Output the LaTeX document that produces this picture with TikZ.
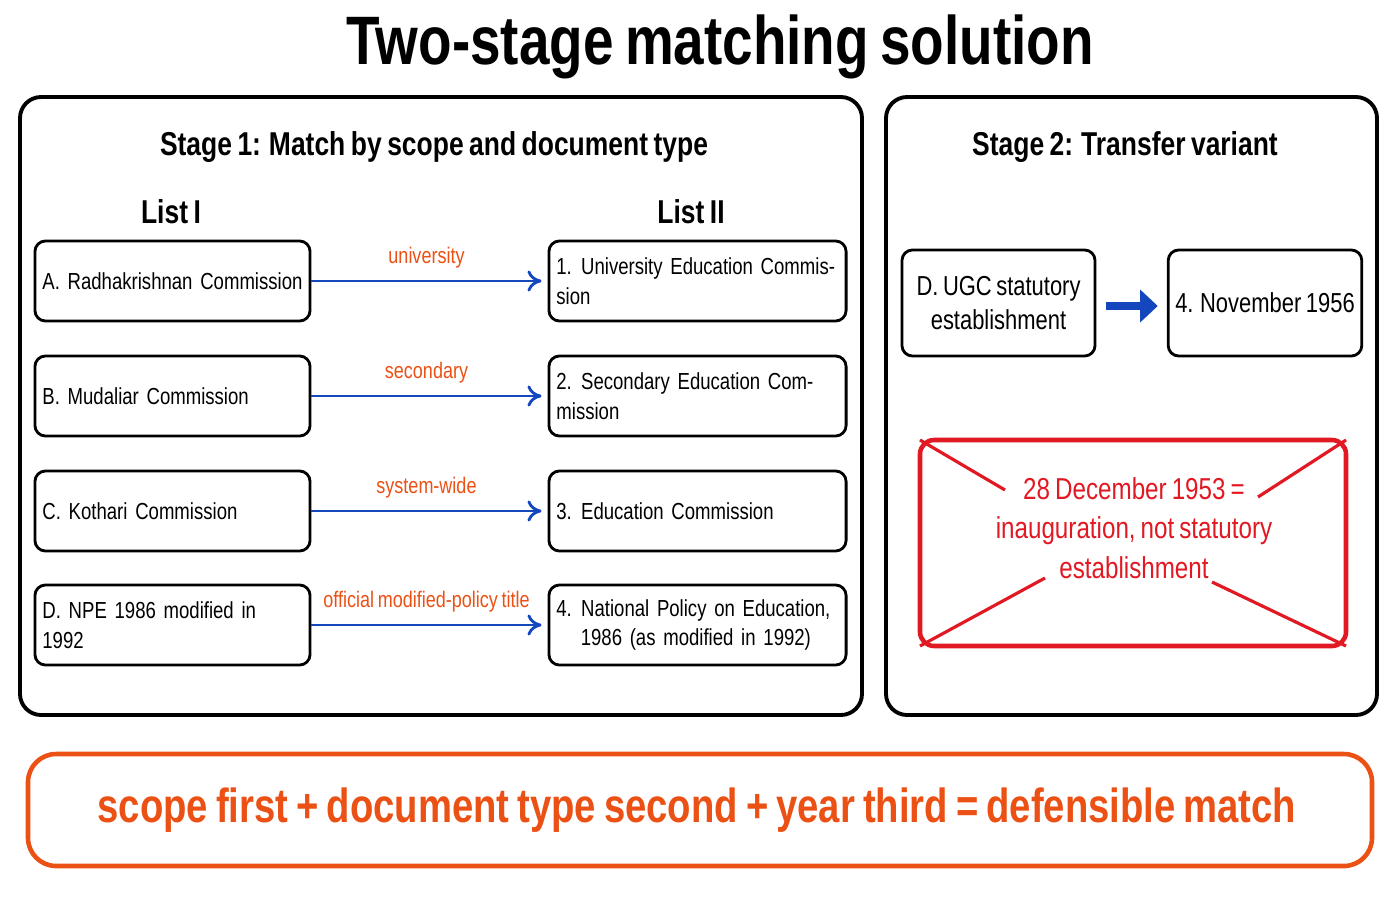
\documentclass[tikz,border=0pt]{standalone}
\usepackage{fontspec}
\setmainfont{Liberation Sans}[FakeStretch=0.8,WordSpace=0.75]
\usetikzlibrary{positioning,arrows.meta}
\definecolor{lineblue}{RGB}{20,70,190}
\definecolor{labelorange}{RGB}{235,80,20}
\definecolor{alertred}{RGB}{225,25,35}
\begin{document}
\begin{tikzpicture}[x=0.01cm,y=-0.01cm,>={To[length=4pt,width=6pt]},
		item/.style={rectangle,rounded corners=3pt,draw=black,line width=0.8pt,align=left,inner sep=2pt,font=\fontsize{6.6}{8.4}\selectfont},
		panel/.style={rounded corners=6pt,draw=black,line width=1.1pt},
		head/.style={font=\fontsize{9.4}{11}\selectfont\bfseries},
		tag/.style={text=labelorange,font=\fontsize{6.4}{7.6}\selectfont,above},
		match/.style={->,draw=lineblue,line width=0.8pt}]
		\useasboundingbox (0,0) rectangle (1400,900);
		\node[font=\fontsize{19.5}{22}\selectfont\bfseries] (title) at (720,47) {Two-stage matching solution};
		
		% panels
		\draw[panel] (20,97) rectangle (862,715);
		\draw[panel] (886,97) rectangle (1377,715);
		\node[head] (s1) at (434,147) {Stage 1: Match by scope and document type};
		\node[head] (s2) at (1125,147) {Stage 2: Transfer variant};
		\node[head] (l1) at (171,212) {List I};
		\node[head] (l2) at (691,212) {List II};
		
		% list I and list II
		\foreach \i/\y/\a/\b/\t in {
			ra/281/{A. Radhakrishnan Commission}/{1.\hspace{0.4em}University Education Commission}/university,
			mu/396/{B. Mudaliar Commission}/{2.\hspace{0.4em}Secondary Education Commission}/secondary,
			ko/511/{C. Kothari Commission}/{3.\hspace{0.4em}Education Commission}/system-wide,
			np/625/{D. NPE 1986 modified in 1992}/{4.\hspace{0.4em}National Policy on Education,\\\hspace*{1.05em}1986 (as modified in 1992)}/official modified-policy title}{
			\node[item,minimum width=2.75cm,minimum height=0.8cm,text width=2.6cm] (\i) at (172.5,\y) {\a};
			\node[item,minimum width=2.97cm,minimum height=0.8cm,text width=2.82cm] (\i2) at (697.5,\y) {\b};
			\draw[match] (\i.east) -- node[tag] {\t} ([xshift=-0.06cm]\i2.west);
		}
		
		% stage 2
		\node[item,minimum width=1.93cm,minimum height=1.06cm,align=center,font=\fontsize{7.8}{9.6}\selectfont] (ugc) at (998.5,303) {D. UGC statutory\\establishment};
		\node[item,minimum width=1.92cm,minimum height=1.06cm,align=center,font=\fontsize{7.8}{9.6}\selectfont] (nov) at (1265,303) {4. November 1956};
		\draw[-{Triangle[length=5pt,width=9pt]},draw=lineblue,fill=lineblue,line width=2.2pt] ([xshift=0.1cm,yshift=-0.03cm]ugc.east) -- ([xshift=-0.09cm,yshift=-0.03cm]nov.west);
		
		\draw[draw=alertred,line width=1.3pt,rounded corners=4pt] (920,440) rectangle (1346,646);
		\node[text=alertred,align=center,font=\fontsize{8.6}{11.2}\selectfont] (inaug) at (1134,528) {28 December 1953 =\\inauguration, not statutory\\establishment};
		\draw[alertred,line width=0.9pt] (920,440) -- (1005,490) (1346,440) -- (1258,497)
			(920,646) -- (1045,578) (1346,646) -- (1212,582);
		
		% bottom line
		\draw[draw=labelorange,line width=1.3pt,rounded corners=8pt] (28,754) rectangle (1372,866);
		\node[text=labelorange,font=\fontsize{13.6}{16}\selectfont\bfseries] (sum) at (697,810) {scope first + document type second + year third = defensible match};
		\end{tikzpicture}
\end{document}
